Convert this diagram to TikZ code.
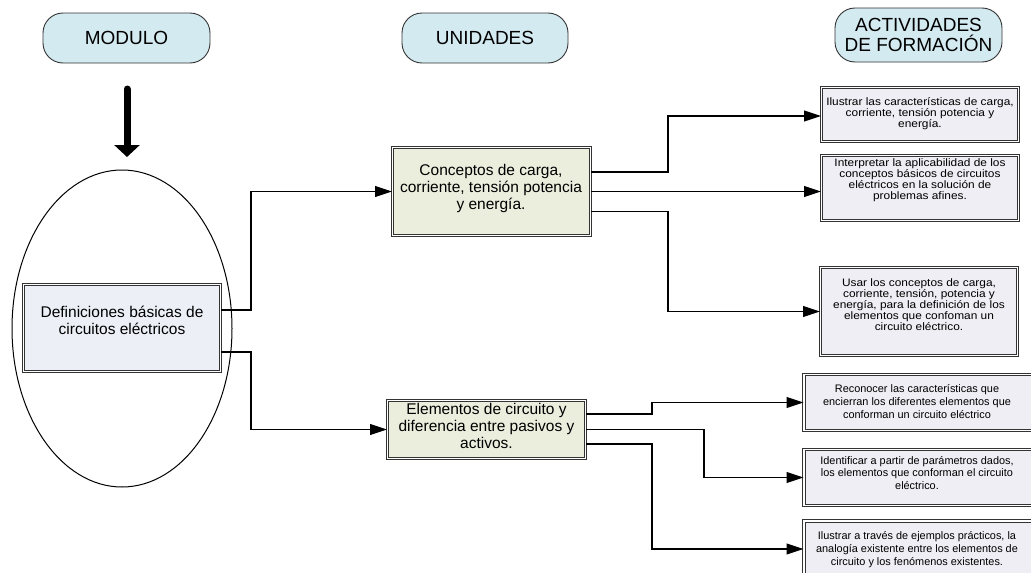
\documentclass[tikz,border=0pt]{standalone}
\usepackage{fontspec}
\setmainfont{Liberation Sans}
\newfontfamily\actfont{Liberation Sans}[FakeStretch=1.1]
\usetikzlibrary{arrows.meta,shapes.geometric}
\definecolor{hdrfill}{HTML}{D3EAF0}
\definecolor{deffill}{HTML}{ECF0F6}
\definecolor{unifill}{HTML}{EBEEDD}
\definecolor{actfill}{HTML}{EEEEF4}
\definecolor{edge}{HTML}{333333}
\tikzset{
  hdr/.style={draw=edge, line width=0.9pt, fill=hdrfill, rounded corners=20pt, inner sep=0pt},
  dbox/.style={draw=edge, line width=1pt, double=white, double distance=1.8pt, inner sep=0pt},
  conn/.style={draw=black, line width=1.1pt, -{Triangle[length=17pt,width=11pt]}},
  bigtxt/.style={font=\fontsize{19}{20}\selectfont, align=center, inner sep=0pt},
  midtxt/.style={font=\fontsize{15.5}{17}\selectfont, align=center, inner sep=0pt},
  acttxt/.style={font=\actfont\fontsize{10.8}{11}\selectfont, align=center, inner sep=0pt},
  acttxtb/.style={font=\fontsize{10.9}{12.8}\selectfont, align=center, inner sep=0pt},
}
\begin{document}
\begin{tikzpicture}[x=1pt,y=-1pt]
\useasboundingbox (0,0) rectangle (1031,573);
\fill[white] (0,0) rectangle (1031,573);
\clip (0,0) rectangle (1031,573);

% headers
\node[hdr, minimum width=167pt, minimum height=50pt] (mod) at (126.5,38) {};
\node[bigtxt] (modt) at (126.5,38) {MODULO};
\node[hdr, minimum width=166pt, minimum height=50pt] (uni) at (485,38) {};
\node[bigtxt] (unit) at (485,38) {UNIDADES};
\node[hdr, minimum width=167pt, minimum height=54pt] (act) at (918.5,35) {};
\node[bigtxt] (actt) at (918.5,35) {ACTIVIDADES\\DE FORMACIÓN};

% big arrow
\coordinate (arrS) at (127,89);
\coordinate (arrE) at (127,157);
\draw[line width=7pt, line cap=round, -{Triangle[length=12pt,width=25pt]}] (arrS) -- (arrE);

% ellipse and module box
\node[draw=black, line width=1pt, ellipse, minimum width=220pt, minimum height=317pt, inner sep=0pt] (ell) at (122,328.5) {};
\node[dbox, fill=deffill, minimum width=197pt, minimum height=87pt] (def) at (122,328) {};
\node[midtxt] (deft) at (122,320) {Definiciones básicas de\\circuitos eléctricos};

% units
\node[dbox, fill=unifill, minimum width=198pt, minimum height=88pt] (conc) at (491.5,191.5) {};
\node[midtxt] (conct) at (491,188.5) {Conceptos de carga,\\corriente, tensión potencia\\y energía.};
\node[dbox, fill=unifill, minimum width=198pt, minimum height=58pt] (elem) at (486.5,429.5) {};
\node[midtxt] (elemt) at (486.5,426) {Elementos de circuito y\\diferencia entre pasivos y\\activos.};

% activities
\node[dbox, fill=actfill, minimum width=197pt, minimum height=54pt] (a1) at (920,114.5) {};
\node[acttxt] (a1t) at (920,113.5) {Ilustrar las características de carga,\\corriente, tensión potencia y\\energía.};
\node[dbox, fill=actfill, minimum width=197pt, minimum height=65pt] (a2) at (920,188) {};
\node[acttxt] (a2t) at (920,180) {Interpretar la aplicabilidad de los\\conceptos básicos de circuitos\\eléctricos en la solución de\\problemas afines.};
\node[dbox, fill=actfill, minimum width=197pt, minimum height=88pt] (a3) at (919,311.5) {};
\node[acttxt] (a3t) at (919,305) {Usar los conceptos de carga,\\corriente, tensión, potencia y\\energía, para la definición de los\\elementos que confoman un\\circuito eléctrico.};
\node[dbox, fill=actfill, minimum width=231pt, minimum height=56pt] (a4) at (919.5,402.5) {};
\node[acttxtb] (a4t) at (917,401.5) {Reconocer las características que\\encierran los diferentes elementos que\\conforman un circuito eléctrico};
\node[dbox, fill=actfill, minimum width=231pt, minimum height=56pt] (a5) at (919.5,477.5) {};
\node[acttxtb] (a5t) at (917,473) {Identificar a partir de parámetros dados,\\los elementos que conforman el circuito\\eléctrico.};
\node[dbox, fill=actfill, minimum width=231pt, minimum height=56pt] (a6) at (919.5,549) {};
\node[acttxtb] (a6t) at (917,549.5) {Ilustrar a través de ejemplos prácticos, la\\analogía existente entre los elementos de\\circuito y los fenómenos existentes.};

% connectors from module
\draw[conn] ([yshift=18pt]def.east) -- ++(30,0) |- (conc.west);
\draw[conn] ([yshift=-24pt]def.east) -- ++(30,0) |- (elem.west);

% connectors from units
\draw[conn] ([yshift=19.5pt]conc.east) -- ++(77,0) |- ([yshift=-1.5pt]a1.west);
\draw[conn] (conc.east) -- (conc.east -| a2.west);
\draw[conn] ([yshift=-20pt]conc.east) -- ++(77,0) |- (a3.west);
\draw[conn] ([yshift=15.5pt]elem.east) -- ++(66,0) |- (a4.west);
\draw[conn] (elem.east) -- ++(118,0) |- (a5.west);
\draw[conn] ([yshift=-14.5pt]elem.east) -- ++(66,0) |- (a6.west);
\end{tikzpicture}
\end{document}
